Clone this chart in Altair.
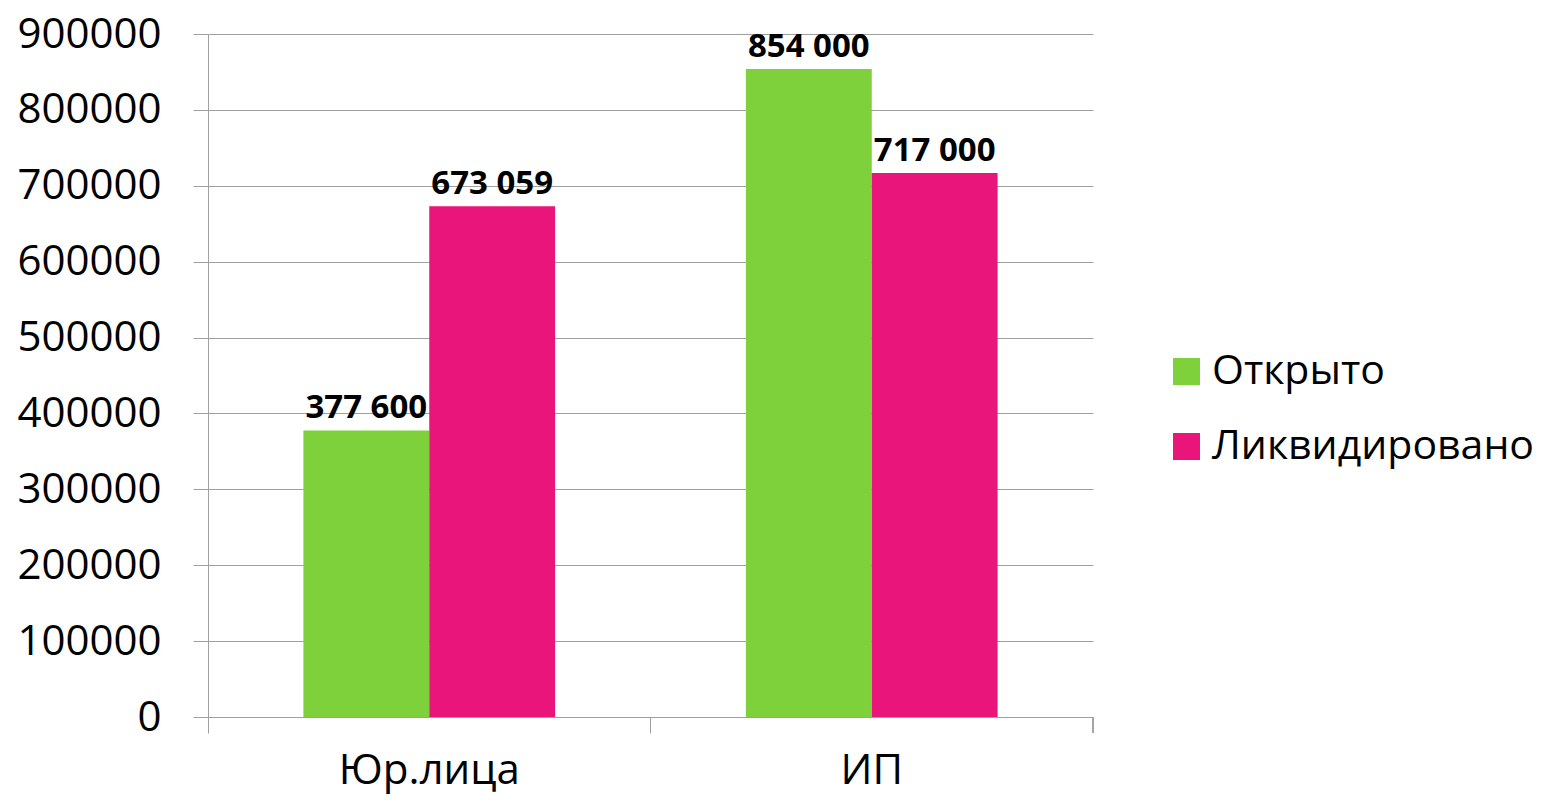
import altair as alt
import pandas as pd

categories = ["Юр.лица", "Юр.лица", "ИП", "ИП"]
series = ["Открыто", "Ликвидировано", "Открыто", "Ликвидировано"]
values = [377600, 673059, 854000, 717000]

cat_order = ["Юр.лица", "ИП"]
ser_order = ["Открыто", "Ликвидировано"]
colors = ["#7FD13B", "#EA157A"]
y_ticks = [0, 100000, 200000, 300000, 400000, 500000, 600000, 700000, 800000, 900000]

df = pd.DataFrame({"cat": categories, "series": series, "value": values})

FONT = "Open Sans"
W, H = 885, 683
GRAY = "#A0A0A0"

x = alt.X(
    "cat:N",
    sort=cat_order,
    scale=alt.Scale(paddingInner=0, paddingOuter=0),
    axis=alt.Axis(
        title=None, bandPosition=0, labelOffset=0, tickSize=16,
        tickColor=GRAY, domainColor=GRAY, labelFontSize=42, labelColor="black",
        labelFont=FONT, labelPadding=17, labelAngle=0, labelLimit=0,
    ),
)
xoff = alt.XOffset("series:N", sort=ser_order,
                   scale=alt.Scale(paddingOuter=0.758, paddingInner=0))
y = alt.Y(
    "value:Q",
    scale=alt.Scale(domain=[0, 900000], nice=False),
    axis=alt.Axis(
        title=None, values=y_ticks, format="d", tickSize=15, tickColor=GRAY,
        gridColor=GRAY, domainColor=GRAY, labelFontSize=42, labelColor="black",
        labelFont=FONT, labelPadding=32,
    ),
)

bars = alt.Chart(df).mark_bar().encode(
    x=x, xOffset=xoff, y=y,
    color=alt.Color(
        "series:N", sort=ser_order,
        scale=alt.Scale(domain=ser_order, range=colors),
        legend=alt.Legend(
            title=None, orient="none", legendX=958, legendY=317,
            symbolType="square", symbolSize=729, symbolStrokeWidth=0,
            labelFontSize=41, labelFont=FONT, labelColor="black",
            rowPadding=33, labelOffset=5, labelLimit=0,
        ),
    ),
)

labels = alt.Chart(df).transform_calculate(
    lbl="replace(format(datum.value, ','), ',', ' ')"
).mark_text(
    dy=-12, baseline="alphabetic", fontWeight="bold", fontSize=33, font=FONT, color="black"
).encode(x=x, xOffset=xoff, y=y, text="lbl:N")

end_tick = alt.Chart(df).mark_rule(color=GRAY).encode(
    x=alt.value(W), y=alt.value(H), y2=alt.value(H + 16)
)

chart = alt.layer(bars, labels, end_tick).properties(
    width=W, height=H,
    autosize=alt.AutoSizeParams(type="none"),
    padding={"left": 200, "top": 26, "right": 443, "bottom": 77},
).configure_view(stroke=None)

chart.save("out.html", embed_options={"renderer": "svg", "actions": False})
